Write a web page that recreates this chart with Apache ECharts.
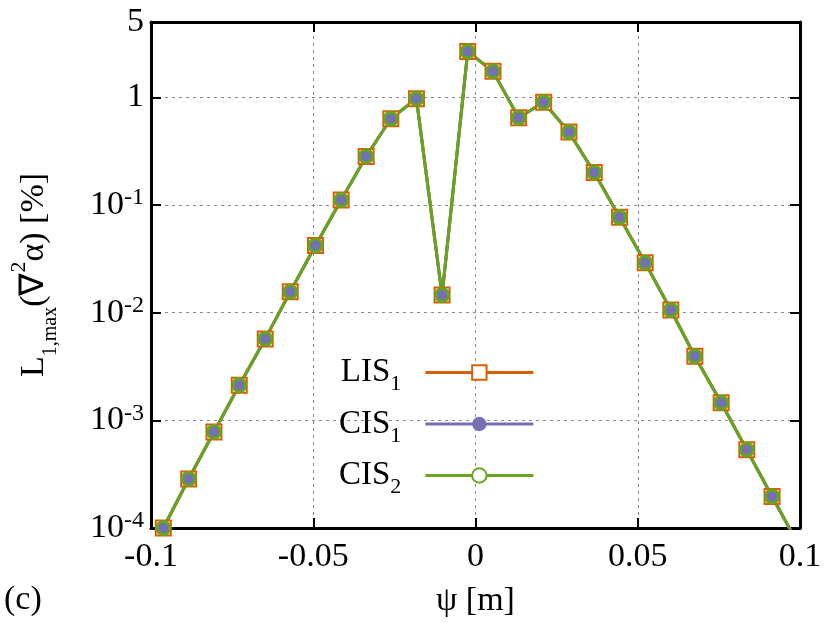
<!DOCTYPE html>
<html>
<head>
<meta charset="utf-8">
<script src="https://cdn.jsdelivr.net/npm/echarts@6/dist/echarts.min.js"></script>
<style>
  html, body { margin: 0; padding: 0; background: #fff; }
  #chart { width: 830px; height: 623px; }
</style>
</head>
<body>
<div id="chart"></div>
<script>
// ---- data ----
const psi = [-0.0962, -0.0884, -0.0806, -0.0728, -0.0648, -0.0571, -0.0493, -0.0414, -0.0337, -0.0261,
             -0.0182, -0.0103, -0.0024, 0.0054, 0.0133, 0.0210, 0.0288, 0.0366, 0.0444, 0.0523,
             0.0602, 0.0676, 0.0757, 0.0836, 0.0914, 0.0993];
const lis1 = [1.0e-4, 2.85e-4, 7.8e-4, 2.12e-3, 5.7e-3, 1.56e-2, 4.2e-2, 0.111, 0.282, 0.632,
              0.97, 0.01455, 2.66, 1.74, 0.645, 0.90, 0.475, 0.200, 0.0769, 0.029,
              0.01057, 3.93e-3, 1.455e-3, 5.32e-4, 1.96e-4, 7.2e-5];
const cis1 = [1.0e-4, 2.85e-4, 7.8e-4, 2.12e-3, 5.7e-3, 1.56e-2, 4.2e-2, 0.111, 0.282, 0.632,
              0.97, 0.01455, 2.66, 1.74, 0.645, 0.90, 0.475, 0.200, 0.0769, 0.029,
              0.01057, 3.93e-3, 1.455e-3, 5.32e-4, 1.96e-4, 7.2e-5];
const cis2 = [1.0e-4, 2.85e-4, 7.8e-4, 2.12e-3, 5.7e-3, 1.56e-2, 4.2e-2, 0.111, 0.282, 0.632,
              0.97, 0.01455, 2.66, 1.74, 0.645, 0.90, 0.475, 0.200, 0.0769, 0.029,
              0.01057, 3.93e-3, 1.455e-3, 5.32e-4, 1.96e-4, 7.2e-5];
const seriesNames = ['LIS1', 'CIS1', 'CIS2'];
const xTicks = [-0.1, -0.05, 0, 0.05, 0.1];
const yTicks = [1e-4, 1e-3, 1e-2, 1e-1, 1, 5];

const FONT = '"Liberation Serif", "Times New Roman", serif';
const ORANGE = '#d95f02', PURPLE = '#7570b3', GREEN = '#66a61e';

function pairs(xs, ys) { return xs.map((x, i) => [x, ys[i]]); }

const chart = echarts.init(document.getElementById('chart'), null, { renderer: 'canvas' });

const gridLine = { show: true, lineStyle: { color: '#8a8a8a', width: 1, type: [3, 4] } };
const frameLine = { show: true, onZero: false, lineStyle: { color: '#000', width: 3 } };
const tick = { show: true, inside: true, length: 10, lineStyle: { color: '#000', width: 2 } };

function yLabel(v) {
  const r = Math.round(v * 1000) / 1000;
  if (r >= 1) return '{b|' + Math.round(v) + '}';
  const e = Math.round(Math.log10(v));
  return '{b|10}{e|' + e + '}';
}

const option = {
  animation: false,
  backgroundColor: '#fff',
  grid: { left: 145, right: 30, top: 22, bottom: 93, containLabel: false },
  xAxis: [
    {
      type: 'value', min: xTicks[0], max: xTicks[xTicks.length - 1], interval: 0.05,
      position: 'bottom',
      axisLine: frameLine, axisTick: tick, splitLine: gridLine,
      axisLabel: { color: '#000', fontFamily: FONT, fontSize: 34, margin: 12 },
      name: 'ψ [m]', nameLocation: 'middle', nameGap: 56,
      nameTextStyle: { color: '#000', fontFamily: FONT, fontSize: 34, lineHeight: 34 }
    },
    {
      type: 'value', min: xTicks[0], max: xTicks[xTicks.length - 1], interval: 0.05,
      position: 'top',
      axisLine: frameLine, axisTick: tick, splitLine: { show: false },
      axisLabel: { show: false }
    }
  ],
  yAxis: [
    {
      type: 'log', logBase: 10, min: yTicks[0], max: yTicks[yTicks.length - 1], interval: 1,
      position: 'left',
      axisLine: frameLine, axisTick: tick, splitLine: gridLine,
      minorTick: { show: false }, minorSplitLine: { show: false },
      axisLabel: {
        color: '#000', fontFamily: FONT, margin: 7,
        formatter: yLabel,
        rich: {
          b: { fontSize: 34, fontFamily: FONT, color: '#000' },
          e: { fontSize: 24, fontFamily: FONT, color: '#000', padding: [0, 0, 14, 0] }
        }
      },
      name: '{b|L}{s|1,max}{b|(∇}{p|2}{b|α) [%]}',
      nameLocation: 'middle', nameRotate: 90, nameGap: 90,
      nameTextStyle: {
        color: '#000', fontFamily: FONT,
        rich: {
          b: { fontSize: 34, fontFamily: FONT, color: '#000' },
          s: { fontSize: 20, fontFamily: FONT, color: '#000', padding: [32, 0, 0, 0] },
          p: { fontSize: 22, fontFamily: FONT, color: '#000', padding: [0, 0, 31, 0] }
        }
      }
    },
    {
      type: 'log', logBase: 10, min: yTicks[0], max: yTicks[yTicks.length - 1], interval: 1,
      position: 'right',
      axisLine: frameLine, axisTick: tick, splitLine: { show: false },
      minorTick: { show: false },
      axisLabel: { show: false }
    }
  ],
  legend: {
    orient: 'vertical', align: 'right',
    left: 339, top: 356, padding: 0, itemGap: 12,
    itemWidth: 108, itemHeight: 18,
    lineStyle: { width: 3 },
    data: [
      { name: seriesNames[0] },
      { name: seriesNames[1] },
      { name: seriesNames[2], itemStyle: { color: '#fff' } }
    ],
    formatter: function (name) {
      return '{b|' + name.slice(0, -1) + '}{s|' + name.slice(-1) + '}';
    },
    textStyle: {
      color: '#000', fontFamily: FONT,
      rich: {
        b: { fontSize: 33, fontFamily: FONT, color: '#000' },
        s: { fontSize: 22, fontFamily: FONT, color: '#000', padding: [24, 19, 0, 0] }
      }
    }
  },
  graphic: [
    {
      type: 'text', left: 4, top: 583,
      style: { text: '(c)', font: '34px "Liberation Serif", serif', fill: '#000' }
    }
  ],
  series: [
    {
      name: seriesNames[0], type: 'line', data: pairs(psi, lis1), clip: true,
      showAllSymbol: true, symbol: 'emptyRect', symbolSize: 15,
      lineStyle: { color: ORANGE, width: 3 },
      itemStyle: { color: ORANGE, borderColor: ORANGE, borderWidth: 3 },
      emphasis: { disabled: true }
    },
    {
      name: seriesNames[1], type: 'line', data: pairs(psi, cis1), clip: true,
      showAllSymbol: true, symbol: 'circle', symbolSize: 13,
      lineStyle: { color: PURPLE, width: 3 },
      itemStyle: { color: PURPLE },
      emphasis: { disabled: true }
    },
    {
      name: seriesNames[2], type: 'line', data: pairs(psi, cis2), clip: true,
      showAllSymbol: true, symbol: 'circle', symbolSize: 13,
      lineStyle: { color: GREEN, width: 3 },
      itemStyle: { color: 'rgba(0,0,0,0)', borderColor: GREEN, borderWidth: 3 },
      emphasis: { disabled: true }
    }
  ]
};
chart.setOption(option);
</script>
</body>
</html>
